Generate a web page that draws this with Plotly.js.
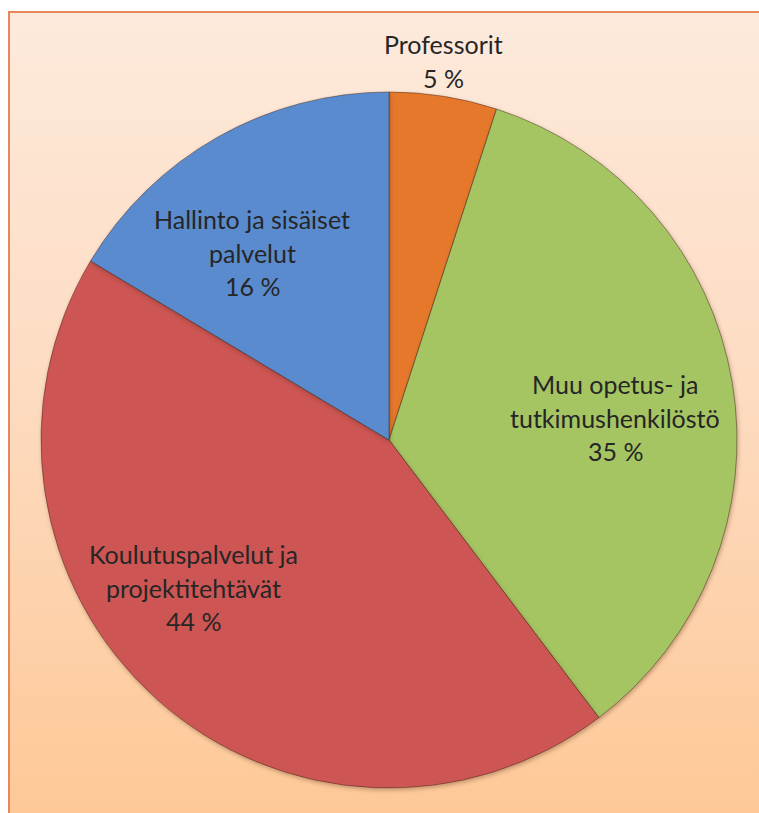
<!DOCTYPE html>
<html>
<head>
<meta charset="utf-8">
<script src="https://cdn.plot.ly/plotly-3.0.1.min.js"></script>
<style>
  html, body { margin: 0; padding: 0; background: #ffffff; }
  #frame {
    position: absolute; left: 8px; top: 11px; width: 760px; height: 810px;
    border-left: 2px solid #e9875c; border-top: 2px solid #e9875c;
    background: linear-gradient(180deg, #fdeadc 0%, #fddcc2 45%, #fec896 100%);
  }
  #chart { position: absolute; left: 0; top: 0; width: 759px; height: 813px; }
  #chart .slice path.surface { filter: drop-shadow(1px 2px 2px rgba(80,40,20,0.35)); }
</style>
</head>
<body>
<div id="frame"></div>
<div id="chart"></div>
<script>
// Data
const labelLines = [
  ["Professorit"],
  ["Muu opetus- ja", "tutkimushenkilöstö"],
  ["Koulutuspalvelut ja", "projektitehtävät"],
  ["Hallinto ja sisäiset", "palvelut"]
];
const categories = labelLines.map(l => l.join(" "));
const values = [5.0, 34.7, 43.9, 16.4];
const colors = ["#e6782b", "#a5c563", "#cd5553", "#5a8bcf"];

const W = 759, H = 813;
// label anchor (center x, first-line y) in pixels - layout positions only
const labelPos = [[443, 44], [615, 384], [193, 554], [252, 219]];
const lineGap = 33.5;

const annotations = [];
labelLines.forEach((lines, i) => {
  const pct = Math.round(values[i]) + " %";
  const all = lines.concat([pct]);
  all.forEach((t, k) => {
    annotations.push({
      text: t, showarrow: false, xref: "paper", yref: "paper",
      x: labelPos[i][0] / W, y: 1 - (labelPos[i][1] + k * lineGap) / H,
      xanchor: "center", yanchor: "middle",
      font: { family: "Lato, 'Open Sans', sans-serif", size: 25, color: "#262626" }
    });
  });
});

const cx = 389, cy = 440, r = 348;
const trace = {
  type: "pie",
  labels: categories,
  values: values,
  sort: false,
  direction: "clockwise",
  rotation: 0,
  textinfo: "none",
  hoverinfo: "label+percent",
  marker: { colors: colors, line: { color: "rgba(60,30,20,0.45)", width: 1 } },
  domain: { x: [(cx - r) / W, (cx + r) / W], y: [(H - cy - r) / H, (H - cy + r) / H] },
  showlegend: false
};

Plotly.newPlot("chart", [trace], {
  width: W, height: H,
  margin: { l: 0, r: 0, t: 0, b: 0 },
  paper_bgcolor: "rgba(0,0,0,0)",
  plot_bgcolor: "rgba(0,0,0,0)",
  annotations: annotations,
  showlegend: false
}, { displayModeBar: false, staticPlot: true });
</script>
</body>
</html>
